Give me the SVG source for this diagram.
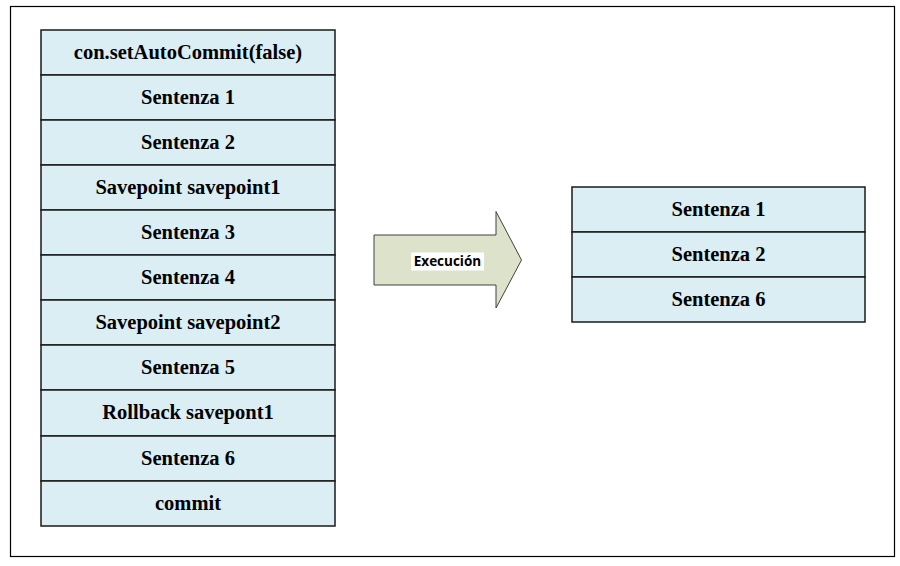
<svg xmlns="http://www.w3.org/2000/svg" width="900" height="566" viewBox="0 0 900 566">
<style>
.box{fill:#DAEEF3;stroke:#1a1a1a;stroke-width:1.5}
.t{font-family:"Liberation Serif","Times New Roman",serif;font-weight:bold;font-size:20.5px;fill:#000;text-anchor:middle}
.lbl{font-family:"Open Sans","Liberation Sans",sans-serif;font-weight:bold;font-size:13.5px;fill:#000;text-anchor:middle}
</style>
<rect x="0" y="0" width="900" height="566" fill="#fff"/>
<rect x="10.5" y="6.5" width="884" height="550" fill="#fff" stroke="#000" stroke-width="1.2"/>
<g id="left-stack">
<g id="l1"><rect class="box" x="41" y="30" width="294" height="45"/><text class="t" x="188" y="58.5">con.setAutoCommit(false)</text></g>
<g id="l2"><rect class="box" x="41" y="75" width="294" height="45"/><text class="t" x="188" y="103.5">Sentenza 1</text></g>
<g id="l3"><rect class="box" x="41" y="120" width="294" height="45"/><text class="t" x="188" y="148.5">Sentenza 2</text></g>
<g id="l4"><rect class="box" x="41" y="165" width="294" height="45"/><text class="t" x="188" y="193.5">Savepoint savepoint1</text></g>
<g id="l5"><rect class="box" x="41" y="210" width="294" height="45"/><text class="t" x="188" y="238.5">Sentenza 3</text></g>
<g id="l6"><rect class="box" x="41" y="255" width="294" height="45"/><text class="t" x="188" y="283.5">Sentenza 4</text></g>
<g id="l7"><rect class="box" x="41" y="300" width="294" height="45"/><text class="t" x="188" y="328.5">Savepoint savepoint2</text></g>
<g id="l8"><rect class="box" x="41" y="345" width="294" height="45"/><text class="t" x="188" y="373.5">Sentenza 5</text></g>
<g id="l9"><rect class="box" x="41" y="390" width="294" height="46"/><text class="t" x="188" y="418.5">Rollback savepont1</text></g>
<g id="l10"><rect class="box" x="41" y="436" width="294" height="45"/><text class="t" x="188" y="464.5">Sentenza 6</text></g>
<g id="l11"><rect class="box" x="41" y="481" width="294" height="45"/><text class="t" x="188" y="509.5">commit</text></g>
</g>
<g id="arrow">
<polygon points="374,235 496,235 496,211.5 521.5,260 496,308 496,285 374,285" fill="#DDE3CB" stroke="#404040" stroke-width="1"/>
<rect x="411" y="252.5" width="73" height="18" fill="#fff"/>
<text class="lbl" x="447.5" y="266">Execución</text>
</g>
<g id="right-stack">
<g id="r1"><rect class="box" x="572" y="187" width="293" height="45"/><text class="t" x="718.5" y="215.5">Sentenza 1</text></g>
<g id="r2"><rect class="box" x="572" y="232" width="293" height="45"/><text class="t" x="718.5" y="260.5">Sentenza 2</text></g>
<g id="r3"><rect class="box" x="572" y="277" width="293" height="45"/><text class="t" x="718.5" y="305.5">Sentenza 6</text></g>
</g>
<g id="connectors"></g>
</svg>
